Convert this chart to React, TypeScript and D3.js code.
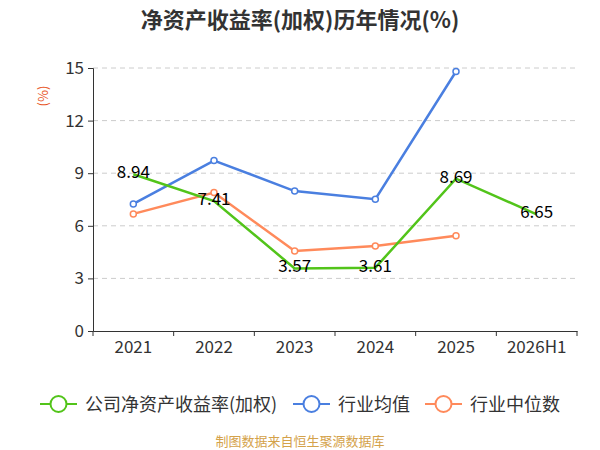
import React, { useRef, useEffect } from 'react';
import * as d3 from 'd3';

// 数据
const years = ['2021', '2022', '2023', '2024', '2025', '2026H1'];
const companyRoe = [8.94, 7.41, 3.57, 3.61, 8.69, 6.65];
const industryAvg = [7.25, 9.72, 7.98, 7.52, 14.8];
const industryMedian = [6.68, 7.9, 4.56, 4.85, 5.43];
const yTicks = [0, 3, 6, 9, 12, 15];

const seriesNames = ['公司净资产收益率(加权)', '行业均值', '行业中位数'];
const seriesColors = ['#52c41a', '#4a7fe0', '#ff8a5b'];

const width = 600;
const height = 450;
const marginTop = 68;
const marginRight = 23;
const marginBottom = 119;
const marginLeft = 93;

const App: React.FC = () => {
  const svgRef = useRef<SVGSVGElement>(null);

  useEffect(() => {
    if (!svgRef.current) return;
    const svg = d3.select(svgRef.current);
    svg.selectAll('*').remove();
    const font = '"Noto Sans CJK SC", "Noto Sans", sans-serif';

    const xScale = d3.scaleBand()
      .domain(years)
      .range([marginLeft, width - marginRight]);

    const yScale = d3.scaleLinear()
      .domain([0, 15])
      .range([height - marginBottom, marginTop]);

    // 标题
    svg.append('text')
      .attr('x', 300).attr('y', 28)
      .attr('text-anchor', 'middle')
      .attr('font-family', font)
      .attr('font-weight', 'bold')
      .attr('font-size', 22)
      .attr('fill', '#333')
      .text('净资产收益率(加权)历年情况(%)');

    // 网格线
    svg.append('g')
      .selectAll('line')
      .data(yTicks.filter(t => t > 0))
      .join('line')
      .attr('x1', marginLeft).attr('x2', width - marginRight)
      .attr('y1', d => yScale(d)).attr('y2', d => yScale(d))
      .attr('stroke', '#ccc')
      .attr('stroke-dasharray', '5,4');

    // y 轴
    const yAxis = svg.append('g')
      .attr('transform', `translate(${marginLeft},0)`)
      .call(d3.axisLeft(yScale).tickValues(yTicks).tickSize(5).tickPadding(4));
    yAxis.select('.domain').attr('stroke', '#333');
    yAxis.selectAll('line').attr('stroke', '#333');
    yAxis.selectAll('text')
      .attr('font-family', font).attr('font-size', 17).attr('fill', '#333');

    // x 轴
    const xAxis = svg.append('g')
      .attr('transform', `translate(0,${height - marginBottom})`)
      .call(d3.axisBottom(xScale).tickSize(0).tickPadding(10));
    xAxis.select('.domain').attr('stroke', '#333');
    xAxis.selectAll('text')
      .attr('font-family', font).attr('font-size', 17).attr('fill', '#333');
    // 分隔刻度
    xAxis.append('g')
      .selectAll('line')
      .data(years.concat(['end']))
      .join('line')
      .attr('x1', (d, i) => marginLeft + i * xScale.bandwidth())
      .attr('x2', (d, i) => marginLeft + i * xScale.bandwidth())
      .attr('y1', 0).attr('y2', 5)
      .attr('stroke', '#333');

    // 单位
    svg.append('text')
      .attr('transform', 'translate(48,96) rotate(-90)')
      .attr('text-anchor', 'middle')
      .attr('font-family', font)
      .attr('font-size', 13)
      .attr('fill', '#e8541e')
      .text('(%)');

    const cx = (i: number) => (xScale(years[i]) || 0) + xScale.bandwidth() / 2;
    const line = d3.line<number>()
      .x((d, i) => cx(i))
      .y(d => yScale(d));

    const allSeries = [industryAvg, industryMedian, companyRoe];
    const colorOf = [seriesColors[1], seriesColors[2], seriesColors[0]];

    allSeries.forEach((data, k) => {
      svg.append('path')
        .datum(data)
        .attr('d', line)
        .attr('fill', 'none')
        .attr('stroke', colorOf[k])
        .attr('stroke-width', 2.5);
      if (k < 2) {
        svg.append('g')
          .selectAll('circle')
          .data(data)
          .join('circle')
          .attr('cx', (d, i) => cx(i))
          .attr('cy', d => yScale(d))
          .attr('r', 3)
          .attr('fill', '#fff')
          .attr('stroke', colorOf[k])
          .attr('stroke-width', 1.5);
      }
    });

    // 数据标签
    svg.append('g')
      .selectAll('text')
      .data(companyRoe)
      .join('text')
      .attr('x', (d, i) => cx(i))
      .attr('y', d => yScale(d) + 4)
      .attr('text-anchor', 'middle')
      .attr('font-family', font)
      .attr('font-size', 17)
      .attr('fill', '#000')
      .text(d => d.toFixed(2));

    // 图例
    const legendX = [40, 293, 425];
    const legend = svg.append('g');
    seriesNames.forEach((name, i) => {
      const g = legend.append('g').attr('transform', `translate(${legendX[i]},404)`);
      g.append('line').attr('x1', 0).attr('x2', 37).attr('y1', 0).attr('y2', 0)
        .attr('stroke', seriesColors[i]).attr('stroke-width', 2);
      g.append('circle').attr('cx', 18.5).attr('cy', 0).attr('r', 8)
        .attr('fill', '#fff').attr('stroke', seriesColors[i]).attr('stroke-width', 2);
      g.append('text').attr('x', 45).attr('y', 6.5)
        .attr('font-family', font).attr('font-size', 18).attr('fill', '#333')
        .text(name);
    });

    // 来源
    svg.append('text')
      .attr('x', 300).attr('y', 446)
      .attr('text-anchor', 'middle')
      .attr('font-family', font)
      .attr('font-size', 13)
      .attr('fill', '#d4a24a')
      .text('制图数据来自恒生聚源数据库');
  }, []);

  return (
    <svg ref={svgRef} width={width} height={height}
      style={{ position: 'absolute', left: 0, top: 0, background: '#fff' }} />
  );
};

export default App;
